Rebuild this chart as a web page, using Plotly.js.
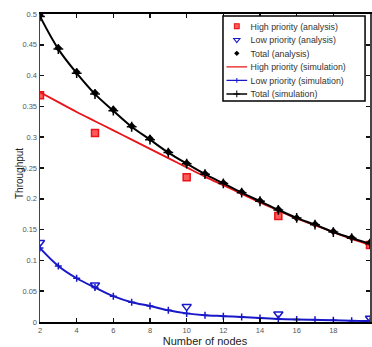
<!DOCTYPE html>
<html><head><meta charset="utf-8">
<script src="https://cdn.plot.ly/plotly-3.0.1.min.js"></script>
<style>html,body{margin:0;padding:0;background:#fff}#c{width:372px;height:347px}</style>
</head><body><div id="c"></div>
<script>
const nodes = [2,3,4,5,6,7,8,9,10,11,12,13,14,15,16,17,18,19,20];
const nodesAnalysis = [2,5,10,15,20];
const highAnalysis = [0.368,0.307,0.235,0.172,0.125];
const lowAnalysis = [0.129,0.060,0.025,0.013,0.006];
const totalAnalysis = [0.498,0.445,0.406,0.372,0.345,0.318,0.298,0.276,0.258,0.241,0.226,0.211,0.197,0.183,0.169,0.159,0.147,0.137,0.129];
const highSim = [0.373,0.357,0.341,0.326,0.311,0.296,0.281,0.266,0.251,0.236,0.222,0.208,0.194,0.181,0.168,0.157,0.146,0.135,0.125];
const lowSim = [0.120,0.091,0.071,0.056,0.042,0.032,0.026,0.019,0.014,0.011,0.0095,0.008,0.0065,0.005,0.004,0.0035,0.003,0.002,0.0015];
const totalSim = [0.496,0.443,0.404,0.370,0.343,0.317,0.296,0.275,0.257,0.240,0.225,0.210,0.196,0.182,0.169,0.158,0.146,0.136,0.127];
const xTicks = [2,4,6,8,10,12,14,16,18,20];
const yTicks = [0,0.05,0.1,0.15,0.2,0.25,0.3,0.35,0.4,0.45,0.5];
const yTickText = ['0','0.05','0.1','0.15','0.2','0.25','0.3','0.35','0.4','0.45','0.5'];

const RED = '#e8141a', BLUE = '#1818c8', BLACK = '#000';
const FONT = 'Liberation Sans, Arial';
const traces = [
  {x: nodesAnalysis, y: highAnalysis, name: 'High priority (analysis)', mode: 'markers',
   marker: {symbol: 'square', size: 7, color: '#ff5a5a', line: {color: RED, width: 1.5}}},
  {x: nodesAnalysis, y: lowAnalysis, name: 'Low priority (analysis)', mode: 'markers',
   marker: {symbol: 'triangle-down-open', size: 8, color: BLUE, line: {color: BLUE, width: 1.5}}},
  {x: nodes, y: totalAnalysis, name: 'Total (analysis)', mode: 'markers',
   marker: {symbol: 'diamond', size: 6, color: BLACK}},
  {x: nodes, y: highSim, name: 'High priority (simulation)', mode: 'lines',
   line: {color: RED, width: 1.8, shape: 'spline'}},
  {x: nodes, y: lowSim, name: 'Low priority (simulation)', mode: 'lines+markers',
   line: {color: BLUE, width: 2, shape: 'spline'},
   marker: {symbol: 'cross-thin-open', size: 5, color: BLUE, line: {color: BLUE, width: 1.5}}},
  {x: nodes, y: totalSim, name: 'Total (simulation)', mode: 'lines+markers',
   line: {color: BLACK, width: 2, shape: 'spline'},
   marker: {symbol: 'cross-thin-open', size: 7, color: BLACK, line: {color: BLACK, width: 1.5}}}
];

const axisCommon = {
  showgrid: false, zeroline: false, showline: true,
  mirror: 'ticks', ticks: 'inside', ticklen: 4, tickwidth: 1.5, tickcolor: '#111',
  tickfont: {family: FONT, size: 7.5, color: '#555'}
};
const layout = {
  width: 372, height: 347,
  margin: {l: 40, r: 2, t: 14, b: 25},
  paper_bgcolor: '#fff', plot_bgcolor: '#fff',
  showlegend: true,
  legend: {x: 1, y: 1, xanchor: 'right', yanchor: 'top',
    bgcolor: 'rgba(0,0,0,0)', borderwidth: 0,
    font: {family: FONT, size: 12.8, color: '#333'}},
  shapes: [{type: 'rect', xref: 'paper', yref: 'paper', layer: 'above',
    x0: 0.5545, x1: 0.985, y0: 0.7175, y1: 0.9935,
    fillcolor: '#fff', line: {color: '#000', width: 1.5}}],
  xaxis: Object.assign({}, axisCommon, {range: [2,20], tickvals: xTicks, ticktext: xTicks.map(String),
    linecolor: '#000', linewidth: 2,
    title: {text: 'Number of nodes', font: {family: FONT, size: 11, color: '#222'}, standoff: 0}}),
  yaxis: Object.assign({}, axisCommon, {range: [0,0.5], tickvals: yTicks, ticktext: yTickText,
    linecolor: '#444', linewidth: 1.5}),
  annotations: [{text: 'Throughput', textangle: -90, xref: 'paper', yref: 'paper', x: 0, y: 0.5,
    xanchor: 'center', yanchor: 'middle', xshift: -21, yshift: -6, showarrow: false,
    font: {family: FONT, size: 10, color: '#222'}}]
};
Plotly.newPlot('c', traces, layout, {staticPlot: true, displayModeBar: false}).then(() => {
  const leg = document.querySelector('.legend');
  if (leg) leg.setAttribute('transform', 'translate(223,16) scale(0.69)');
});
</script></body></html>
